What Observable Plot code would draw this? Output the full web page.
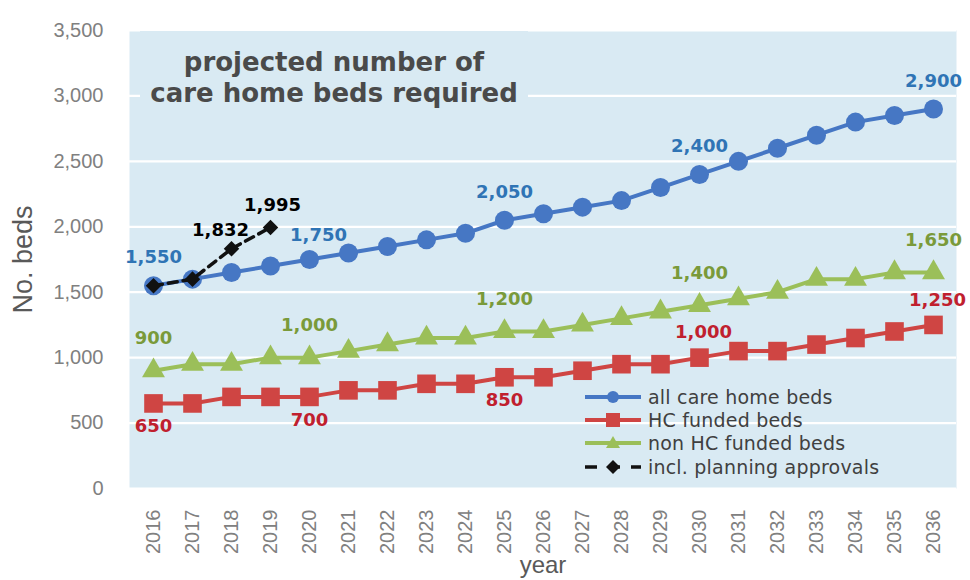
<!DOCTYPE html>
<html><head><meta charset="utf-8">
<script src="https://cdn.jsdelivr.net/npm/d3@7"></script>
<script src="https://cdn.jsdelivr.net/npm/@observablehq/plot@0.6"></script>
<style>
body{margin:0;background:#fff;}
#wrap{position:relative;width:970px;height:580px;}
#title{position:absolute;left:140px;top:31px;width:388px;height:74px;padding-top:16px;background:#D9EAF3;font:700 26px "DejaVu Sans",sans-serif;color:#4a4a4a;text-align:center;}
#title div{height:31px;line-height:31px;white-space:nowrap;}
#legend{position:absolute;left:583px;top:385px;font:19px "DejaVu Sans",sans-serif;letter-spacing:0.2px;color:#404040;}
.row{display:flex;align-items:center;height:23.3px;}
.row svg{margin-right:5px;}
</style></head><body><div id="wrap"></div>
<script>
// ---- data ----
const years = [2016,2017,2018,2019,2020,2021,2022,2023,2024,2025,2026,2027,2028,2029,2030,2031,2032,2033,2034,2035,2036];
const allBeds   = [1550,1600,1650,1700,1750,1800,1850,1900,1950,2050,2100,2150,2200,2300,2400,2500,2600,2700,2800,2850,2900];
const hcBeds    = [650,650,700,700,700,750,750,800,800,850,850,900,950,950,1000,1050,1050,1100,1150,1200,1250];
const nonHcBeds = [900,950,950,1000,1000,1050,1100,1150,1150,1200,1200,1250,1300,1350,1400,1450,1500,1600,1600,1650,1650];
const planYears = [2016,2017,2018,2019];
const planBeds  = [1550,1600,1832,1995];
const yTicks = [0,500,1000,1500,2000,2500,3000,3500];
const seriesNames = ["all care home beds","HC funded beds","non HC funded beds","incl. planning approvals"];
const allLabelYears = [2016,2025,2030,2036];
const allLabelYearsShifted = [2020];
const nonLabelYears = [2016,2020,2025,2030,2036];
const hcLabelBelowYears = [2016,2020,2025];
const hcLabelAboveYears = [2030,2036];
const planLabelYearA = [2018];
const planLabelYearB = [2019];
const titleLines = ["projected number of","care home beds required"];
const yLabel = "No. beds";
const xLabel = "year";

// ---- styles ----
const BG = "#D9EAF3";
const BLUE = "#4677C4", RED = "#CF4543", GREEN = "#9BBF59", BLACK = "#111";
const BLUE_T = "#2F74B5", RED_T = "#C0202E", GREEN_T = "#7A9A3A";
const fmt = d3.format(",");

const rows = years.map((y, i) => ({year: String(y), all: allBeds[i], hc: hcBeds[i], non: nonHcBeds[i]}));
const plan = planYears.map((y, i) => ({year: String(y), v: planBeds[i]}));
const pick = (list) => rows.filter(d => list.includes(+d.year));
const pickPlan = (list) => plan.filter(d => list.includes(+d.year));
const labelFont = {fontFamily: "DejaVu Sans", fontWeight: "bold", fontSize: 18};

const chart = Plot.plot({
  width: 970, height: 580,
  marginLeft: 129, marginRight: 14, marginTop: 30, marginBottom: 92,
  style: {fontFamily: "Liberation Sans, Arial, sans-serif", background: "white", overflow: "visible"},
  x: {type: "point", domain: years.map(String), padding: 0.5},
  y: {domain: [0, 3500]},
  marks: [
    Plot.frame({fill: BG, stroke: "none"}),
    Plot.gridY(yTicks, {stroke: "white", strokeOpacity: 1, strokeWidth: 2.2}),
    Plot.axisY(yTicks, {tickSize: 0, tickPadding: 26, tickFormat: fmt, fontSize: 20, color: "#808080", label: null}),
    Plot.axisX({tickSize: 0, tickPadding: 21, tickRotate: -90, fontSize: 20, color: "#808080", label: null}),
    Plot.text([yLabel], {frameAnchor: "left", textAnchor: "middle", lineAnchor: "middle", rotate: -90, dx: -106, fontSize: 27, fill: "#595959"}),
    Plot.text([xLabel], {frameAnchor: "bottom", textAnchor: "middle", lineAnchor: "middle", dy: 77, fontSize: 24, fill: "#595959"}),
    // HC funded
    Plot.line(rows, {x: "year", y: "hc", stroke: RED, strokeWidth: 4}),
    Plot.dot(rows, {x: "year", y: "hc", symbol: "square", r: 10.5, fill: RED}),
    // non HC funded
    Plot.line(rows, {x: "year", y: "non", stroke: GREEN, strokeWidth: 4}),
    Plot.dot(rows, {x: "year", y: "non", symbol: "triangle", r: 8.5, fill: GREEN}),
    // all beds
    Plot.line(rows, {x: "year", y: "all", stroke: BLUE, strokeWidth: 4}),
    Plot.dot(rows, {x: "year", y: "all", symbol: "circle", r: 9.5, fill: BLUE}),
    // planning approvals
    Plot.line(plan, {x: "year", y: "v", stroke: BLACK, strokeWidth: 3.5, strokeDasharray: "9,6"}),
    Plot.dot(plan, {x: "year", y: "v", symbol: "diamond2", r: 7, fill: BLACK}),
    // labels
    Plot.text(pick(allLabelYears), {x: "year", y: "all", text: d => fmt(d.all), dy: -28, fill: BLUE_T, ...labelFont}),
    Plot.text(pick(allLabelYearsShifted), {x: "year", y: "all", text: d => fmt(d.all), dy: -24, dx: 9, fill: BLUE_T, ...labelFont}),
    Plot.text(pick(nonLabelYears), {x: "year", y: "non", text: d => fmt(d.non), dy: -32, fill: GREEN_T, ...labelFont}),
    Plot.text(pick(hcLabelBelowYears), {x: "year", y: "hc", text: d => fmt(d.hc), dy: 23, fill: RED_T, ...labelFont}),
    Plot.text(pick(hcLabelAboveYears), {x: "year", y: "hc", text: d => fmt(d.hc), dy: -25, dx: 4, fill: RED_T, ...labelFont}),
    Plot.text(pickPlan(planLabelYearA), {x: "year", y: "v", text: d => fmt(d.v), dy: -19, dx: -11, fill: "#000", ...labelFont}),
    Plot.text(pickPlan(planLabelYearB), {x: "year", y: "v", text: d => fmt(d.v), dy: -22, dx: 2, fill: "#000", ...labelFont})
  ]
});

const wrap = document.getElementById("wrap");
wrap.appendChild(chart);

// title overlay
const title = document.createElement("div");
title.id = "title";
titleLines.forEach(t => {
  const line = document.createElement("div");
  line.textContent = t;
  title.appendChild(line);
});
wrap.appendChild(title);

// legend overlay
const legend = document.createElement("div");
legend.id = "legend";
const sym = [
  `<line x1="2" y1="10" x2="58" y2="10" stroke="${BLUE}" stroke-width="4"/><circle cx="30" cy="10" r="6" fill="${BLUE}"/>`,
  `<line x1="2" y1="10" x2="58" y2="10" stroke="${RED}" stroke-width="4"/><rect x="23" y="3" width="14" height="14" fill="${RED}"/>`,
  `<line x1="2" y1="10" x2="58" y2="10" stroke="${GREEN}" stroke-width="4"/><path d="M30,3 L37,15 L23,15 Z" fill="${GREEN}"/>`,
  `<line x1="2" y1="10" x2="58" y2="10" stroke="${BLACK}" stroke-width="3.5" stroke-dasharray="12,11"/><path d="M30,3 L37,10 L30,17 L23,10 Z" fill="${BLACK}"/>`
];
seriesNames.forEach((name, i) => {
  const row = document.createElement("div");
  row.className = "row";
  row.innerHTML = `<svg width="60" height="20">${sym[i]}</svg><span>${name}</span>`;
  legend.appendChild(row);
});
wrap.appendChild(legend);
</script>
</body></html>
